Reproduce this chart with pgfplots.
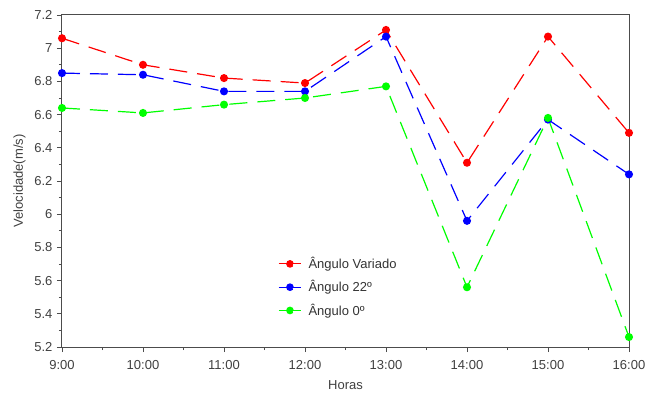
\documentclass[border=0pt]{standalone}
\usepackage{pgfplots}
\pgfplotsset{compat=1.18}
\usepackage{fontspec}
\setmainfont{Liberation Sans}
\begin{document}
\begin{tikzpicture}[x=1bp,y=1bp]
\fontsize{13bp}{15bp}\selectfont
\begin{axis}[
  scale only axis,
  width=567bp, height=332bp,
  xmin=9, xmax=16, ymin=5.2, ymax=7.2,
  xtick={9,10,11,12,13,14,15,16},
  xticklabels={9:00,10:00,11:00,12:00,13:00,14:00,15:00,16:00},
  ytick={5.2,5.4,5.6,5.8,6,6.2,6.4,6.6,6.8,7,7.2},
  yticklabels={5.2,5.4,5.6,5.8,6,6.2,6.4,6.6,6.8,7,7.2},
  minor x tick num=1, minor y tick num=1,
  tick align=outside,
  major tick length=5bp, minor tick length=3bp,
  tick style={draw=black!70, line width=0.8bp},
  axis line style={draw=black!70, line width=1bp},
  xtick pos=bottom, ytick pos=left,
  ticklabel style={font=\fontsize{13bp}{15bp}\selectfont, text=black!75},
  xticklabel style={yshift=-4bp},
  label style={font=\fontsize{13bp}{15bp}\selectfont, text=black!75},
  xlabel={Horas},
  ylabel={Velocidade(m/s)},
  xlabel style={yshift=-2bp},
  clip=false,
  legend style={at={(0.376,0.283)}, anchor=north west, draw=none, fill=none,
    font=\fontsize{13bp}{15bp}\selectfont, text=black!80, row sep=6bp},
  legend cell align=left,
  legend image code/.code={\draw[#1, solid, line width=1.2bp] (0bp,0bp) -- (22bp,0bp); \fill[#1] (11bp,0bp) circle (3.2bp); \path (0bp,0bp) -- (27bp,0bp);},
  every axis plot/.append style={line width=1.2bp, dash pattern=on 18bp off 10bp, mark=*, mark size=3.4bp, mark options={solid}},
]
\coordinate (sw) at (rel axis cs:0,0);
\coordinate (ne) at (rel axis cs:1,1);
\addplot[red, mark options={fill=red, draw=red, solid}] coordinates {
(9,7.06) (10,6.90) (11,6.82) (12,6.79) (13,7.11) (14,6.31) (15,7.07) (16,6.49)};
\addlegendentry{Ângulo Variado}
\addplot[blue, mark options={fill=blue, draw=blue, solid}] coordinates {
(9,6.85) (10,6.84) (11,6.74) (12,6.74) (13,7.07) (14,5.96) (15,6.57) (16,6.24)};
\addlegendentry{Ângulo 22º}
\addplot[green, mark options={fill=green, draw=green, solid}] coordinates {
(9,6.64) (10,6.61) (11,6.66) (12,6.70) (13,6.77) (14,5.56) (15,6.58) (16,5.26)};
\addlegendentry{Ângulo 0º}
\end{axis}
\pgfresetboundingbox
\path ([xshift=-62bp,yshift=-46bp]sw) rectangle ([xshift=18bp,yshift=15bp]ne);
\end{tikzpicture}
\end{document}
